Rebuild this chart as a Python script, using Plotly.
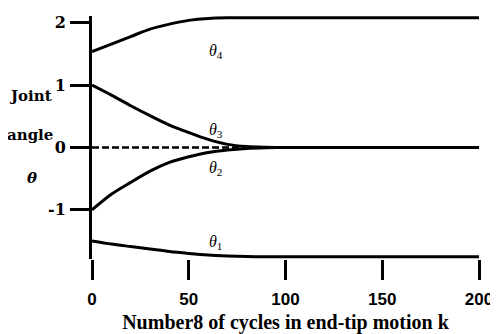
import plotly.graph_objects as go

k = [0, 10, 20, 30, 40, 50, 60, 70, 80, 90, 100, 120, 150, 200]
theta4 = [1.54, 1.66, 1.78, 1.90, 1.98, 2.04, 2.07, 2.08, 2.08, 2.08, 2.08, 2.08, 2.08, 2.08]
theta3 = [1.00, 0.84, 0.67, 0.51, 0.36, 0.24, 0.13, 0.05, 0.015, 0.004, 0.0, 0.0, 0.0, 0.0]
theta2 = [-1.00, -0.75, -0.56, -0.38, -0.24, -0.15, -0.08, -0.04, -0.015, -0.004, 0.0, 0.0, 0.0, 0.0]
theta1 = [-1.50, -1.55, -1.59, -1.63, -1.67, -1.70, -1.725, -1.74, -1.75, -1.755, -1.755, -1.755, -1.755, -1.755]
ref_k = [0, 200]
ref_y = [0, 0]

x_ticks = [0, 50, 100, 150, 200]
y_ticks = [-1, 0, 1, 2]
y_ticktext = ["-1", "0", "1", "2"]

labels = ["<i>θ</i><sub>4</sub>", "<i>θ</i><sub>3</sub>", "<i>θ</i><sub>2</sub>", "<i>θ</i><sub>1</sub>"]
label_k = [64, 64, 64, 64]
label_y = [1.54, 0.28, -0.33, -1.52]

fig = go.Figure()
fig.add_trace(go.Scatter(x=ref_k, y=ref_y, mode="lines",
                         line=dict(color="black", width=2.5, dash="7px,3px"), hoverinfo="skip"))
for ys in [theta4, theta3, theta2, theta1]:
    fig.add_trace(go.Scatter(x=k, y=ys, mode="lines",
                             line=dict(color="black", width=3, shape="spline", smoothing=0.8)))

for t, xv, yv in zip(labels, label_k, label_y):
    fig.add_annotation(x=xv, y=yv, xref="x", yref="y", text=t,
                       showarrow=False, xanchor="center", yanchor="middle",
                       font=dict(family="Liberation Serif", size=16, color="black"))

ytitle = [("Joint", 0.83, -0.158), ("angle", 0.20, -0.160), ("<i>θ</i>", -0.49, -0.155)]
for txt, yv, xp in ytitle:
    fig.add_annotation(x=xp, y=yv, xref="paper", yref="y", text=txt, showarrow=False,
                       xanchor="center", yanchor="middle",
                       font=dict(family="DejaVu Serif", size=15, color="black", weight="bold"))

fig.update_layout(
    width=490, height=326,
    margin=dict(l=84, r=19, t=8, b=75, autoexpand=False),
    paper_bgcolor="white", plot_bgcolor="white",
    showlegend=False,
    xaxis=dict(range=[0, 200], tickvals=x_ticks, ticks="outside", ticklen=20, tickwidth=3,
               tickcolor="black", showline=False, showgrid=False, zeroline=False, automargin=False,
               ticklabelstandoff=5,
               tickfont=dict(family="Liberation Sans", size=17, color="black", weight="bold"),
               title=dict(text="Number8 of cycles in end-tip motion k", standoff=12,
                          font=dict(family="Liberation Serif", size=20, color="black", weight="bold"))),
    yaxis=dict(range=[-1.79, 2.11], tickvals=y_ticks, ticktext=y_ticktext, ticks="outside",
               ticklen=19, tickwidth=3, tickcolor="black", showline=True, linewidth=3,
               linecolor="black", showgrid=False, zeroline=False, ticklabelstandoff=1, automargin=False,
               tickfont=dict(family="DejaVu Serif", size=16, color="black", weight="bold")),
)

fig.write_html("out.html")
